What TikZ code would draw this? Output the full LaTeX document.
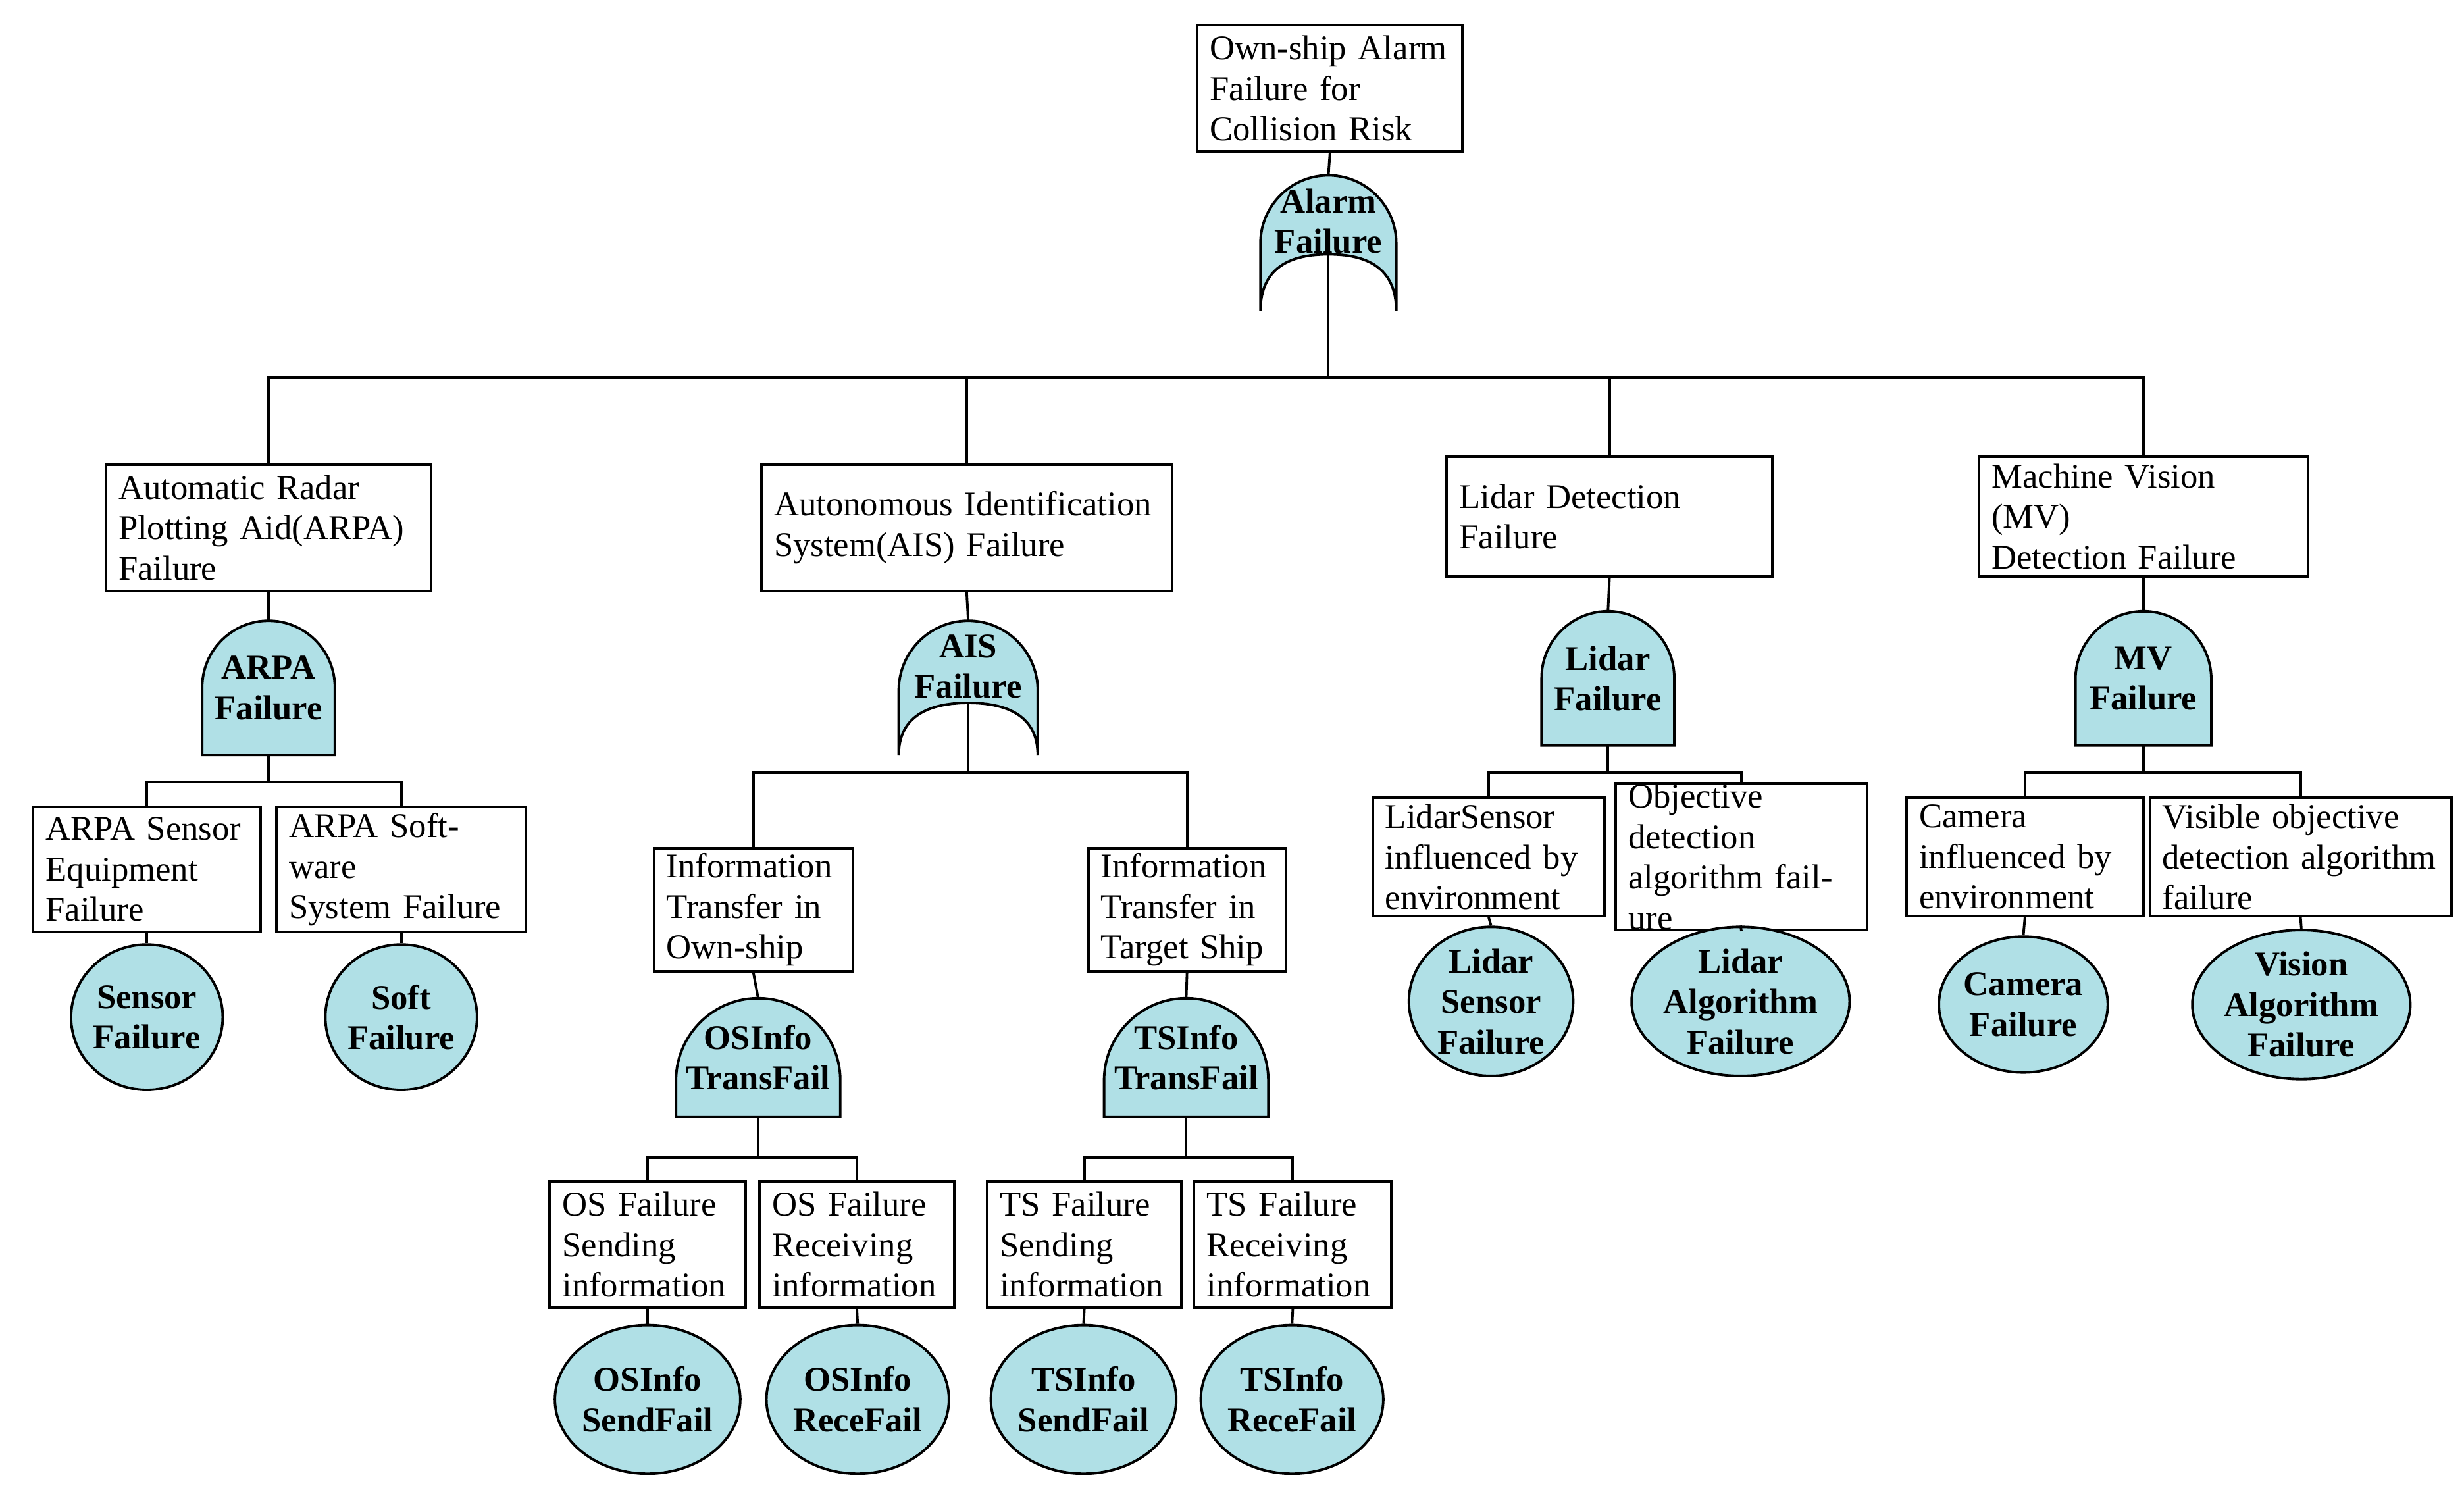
\documentclass[tikz,border=0pt]{standalone}
\usepackage{fontspec}
\setmainfont{Liberation Serif}
\usetikzlibrary{shapes.geometric}
\definecolor{gfill}{RGB}{176,224,230}
\tikzset{
  box/.style={draw,line width=1.1pt,rectangle,inner xsep=0.19cm,inner ysep=0pt,align=left,font=\fontsize{15}{17.5}\selectfont},
  gate/.style={fill=gfill,draw,line width=1.1pt},
  gtext/.style={font=\fontsize{15}{17.5}\selectfont\bfseries,align=center,inner sep=0pt},
  ev/.style={ellipse,draw,line width=1.1pt,fill=gfill,inner sep=0pt,font=\fontsize{15}{17.5}\selectfont\bfseries,align=center},
  ln/.style={line width=1.1pt}
}
\newcommand{\bx}[6]{%
  \pgfmathsetmacro\bw{(#4-#2)*0.024}\pgfmathsetmacro\bh{(#5-#3)*0.024}\pgfmathsetmacro\tw{(#4-#2-16)*0.024}%
  \node[box,minimum width=\bw cm,minimum height=\bh cm,text width=\tw cm] (#1) at ({(#2+#4)/2},{(#3+#5)/2}) {#6};}
% AND gate: name, cx, top, bottom, halfwidth, text
\newcommand{\andg}[6]{%
  \draw[gate] ({#2-#5},#4) -- ({#2-#5},{#3+#5}) .. controls ({#2-#5},{#3+0.45*#5}) and ({#2-0.55*#5},#3) .. (#2,#3)
     .. controls ({#2+0.55*#5},#3) and ({#2+#5},{#3+0.45*#5}) .. ({#2+#5},{#3+#5}) -- ({#2+#5},#4) -- cycle;
  \node[gtext] (#1) at (#2,{(#3+#4)/2}) {#6};
  \coordinate (#1t) at (#2,#3); \coordinate (#1b) at (#2,#4);}
% OR gate: name, cx, top, bottom, halfwidth, apex, text
\newcommand{\org}[7]{%
  \draw[gate] ({#2-#5},#4) -- ({#2-#5},{#3+#5}) .. controls ({#2-#5},{#3+0.45*#5}) and ({#2-0.55*#5},#3) .. (#2,#3)
     .. controls ({#2+0.55*#5},#3) and ({#2+#5},{#3+0.45*#5}) .. ({#2+#5},{#3+#5}) -- ({#2+#5},#4)
     .. controls ({#2+#5},{#6+8}) and ({#2+0.55*#5},#6) .. (#2,#6)
     .. controls ({#2-0.55*#5},#6) and ({#2-#5},{#6+8}) .. ({#2-#5},#4);
  \node[gtext] (#1) at (#2,{#3+29}) {#7};
  \coordinate (#1t) at (#2,#3); \coordinate (#1b) at (#2,#6);}
\newcommand{\evt}[6]{%
  \pgfmathsetmacro\ew{2*#4*0.024}\pgfmathsetmacro\eh{2*#5*0.024}%
  \node[ev,minimum width=\ew cm,minimum height=\eh cm] (#1) at (#2,#3) {#6};}
\begin{document}
\begin{tikzpicture}[x=0.024cm,y=-0.024cm]
\useasboundingbox (0,0) rectangle (1560,942);
% top
\bx{top}{758}{16}{926}{96}{Own-ship Alarm\\Failure for\\Collision Risk}
\org{alarm}{841}{111}{197}{43}{161}{Alarm\\Failure}
\draw[ln] (top.south) -- (alarmt);
\coordinate (bus) at (841,239);
\draw[ln] (alarmb) -- (bus);
% level 2 boxes
\bx{arpa}{67}{294}{273}{374}{Automatic Radar\\Plotting Aid(ARPA)\\Failure}
\bx{ais}{482}{294}{742}{374}{Autonomous Identification\\System(AIS) Failure}
\bx{lidar}{916}{289}{1122}{365}{Lidar Detection\\Failure}
\bx{mv}{1253}{289}{1461}{365}{Machine Vision (MV)\\Detection Failure}
\draw[ln] (bus) -| (arpa.north);
\draw[ln] (bus) -| (ais.north);
\draw[ln] (bus) -| (lidar.north);
\draw[ln] (bus) -| (mv.north);
% gates level 2
\andg{garpa}{170}{393}{478}{42}{ARPA\\Failure}
\org{gais}{613}{393}{478}{44}{445}{AIS\\Failure}
\andg{glidar}{1018}{387}{472}{42}{Lidar\\Failure}
\andg{gmv}{1357}{387}{472}{43}{MV\\Failure}
\draw[ln] (arpa.south) -- (garpat);
\draw[ln] (ais.south) -- (gaist);
\draw[ln] (lidar.south) -- (glidart);
\draw[ln] (mv.south) -- (gmvt);
% ARPA children
\bx{asen}{21}{511}{165}{590}{ARPA Sensor\\Equipment\\Failure}
\bx{asoft}{175}{511}{333}{590}{ARPA Software\\System Failure}
\coordinate (ja) at (170,495);
\draw[ln] (garpab) -- (ja);
\draw[ln] (ja) -| (asen.north);
\draw[ln] (ja) -| (asoft.north);
\evt{esen}{93}{644}{43}{46}{Sensor\\Failure}
\evt{esoft}{254}{644}{43}{46}{Soft\\Failure}
\draw[ln] (asen.south) -- (esen.north);
\draw[ln] (asoft.south) -- (esoft.north);
% AIS children
\bx{osit}{414}{537}{540}{615}{Information\\Transfer in\\Own-ship}
\bx{tsit}{689}{537}{814}{615}{Information\\Transfer in\\Target Ship}
\coordinate (jb) at (613,489);
\draw[ln] (gaisb) -- (jb);
\draw[ln] (jb) -| (osit.north);
\draw[ln] (jb) -| (tsit.north);
\andg{gos}{480}{632}{707}{52}{OSInfo\\TransFail}
\andg{gts}{751}{632}{707}{52}{TSInfo\\TransFail}
\draw[ln] (osit.south) -- (gost);
\draw[ln] (tsit.south) -- (gtst);
\bx{oss}{348}{748}{472}{828}{OS Failure\\Sending\\information}
\bx{osr}{481}{748}{604}{828}{OS Failure\\Receiving\\information}
\bx{tss}{625}{748}{748}{828}{TS Failure\\Sending\\information}
\bx{tsr}{756}{748}{881}{828}{TS Failure\\Receiving\\information}
\coordinate (jc) at (480,733);
\coordinate (jd) at (751,733);
\draw[ln] (gosb) -- (jc);
\draw[ln] (jc) -| (oss.north);
\draw[ln] (jc) -| (osr.north);
\draw[ln] (gtsb) -- (jd);
\draw[ln] (jd) -| (tss.north);
\draw[ln] (jd) -| (tsr.north);
\evt{eoss}{410}{886}{47}{47}{OSInfo\\SendFail}
\evt{eosr}{543}{886}{47}{47}{OSInfo\\ReceFail}
\evt{etss}{686}{886}{47}{47}{TSInfo\\SendFail}
\evt{etsr}{818}{886}{47}{47}{TSInfo\\ReceFail}
\draw[ln] (oss.south) -- (eoss.north);
\draw[ln] (osr.south) -- (eosr.north);
\draw[ln] (tss.south) -- (etss.north);
\draw[ln] (tsr.south) -- (etsr.north);
% Lidar children
\bx{lsen}{869}{505}{1016}{580}{LidarSensor\\influenced by\\environment}
\bx{lalg}{1023}{505}{1182}{580}{Objective\\detection\\algorithm failure}
\coordinate (je) at (1018,489);
\draw[ln] (glidarb) -- (je);
\draw[ln] (je) -| (lsen.north);
\draw[ln] (je) -| (lalg.north);
\evt{elsen}{944}{634}{52}{45}{Lidar\\Sensor\\Failure}
\evt{elalg}{1102}{634}{57}{45}{Lidar\\Algorithm\\Failure}
\draw[ln] (lsen.south) -- (elsen.north);
\draw[ln] (lalg.south) -- (elalg.north);
% MV children
\bx{cam}{1207}{505}{1357}{580}{Camera\\influenced by\\environment}
\bx{vis}{1361}{505}{1552}{580}{Visible objective\\detection algorithm\\failure}
\coordinate (jf) at (1357,489);
\draw[ln] (gmvb) -- (jf);
\draw[ln] (jf) -| (cam.north);
\draw[ln] (jf) -| (vis.north);
\evt{ecam}{1281}{636}{43}{43}{Camera\\Failure}
\evt{evis}{1457}{636}{61}{43}{Vision\\Algorithm\\Failure}
\draw[ln] (cam.south) -- (ecam.north);
\draw[ln] (vis.south) -- (evis.north);
\end{tikzpicture}
\end{document}
